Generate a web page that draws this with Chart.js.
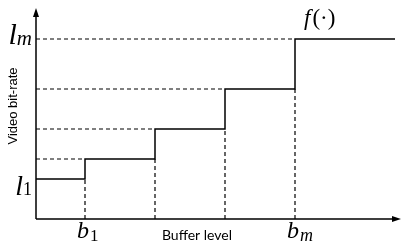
<!DOCTYPE html>
<html>
<head>
<meta charset="utf-8">
<script src="https://cdn.jsdelivr.net/npm/chart.js@4/dist/chart.umd.min.js"></script>
<style>
  html, body { margin: 0; padding: 0; background: #fff; }
  #wrap { width: 401px; height: 247px; }
</style>
</head>
<body>
<div id="wrap"><canvas id="myChart"></canvas></div>
<script>
// buffer breakpoints b1 .. bm, and where the last step stops
const xBreaks = [49, 119, 189, 259];
const xEnd = 359;
const X_MAX = 364;
// bit-rate levels l1 .. lm
const levels = [40, 60, 90, 130, 180];
const Y_MAX = 209;

// tick labels (base letter + subscript)
const yLabelBase = ['l', '', '', '', 'l'];
const yLabelSub = ['1', '', '', '', 'm'];
const xLabelBase = ['b', '', '', 'b'];
const xLabelSub = ['1', '', '', 'm'];

const xTitle = 'Buffer level';
const yTitle = 'Video bit-rate';

// step function points: start at 0, jump at each break, then run to xEnd
const stepPts = [{x: 0, y: levels[0]}];
xBreaks.forEach((b, i) => stepPts.push({x: b, y: levels[i + 1]}));
stepPts.push({x: xEnd, y: levels[levels.length - 1]});

const dashStyle = {
  borderColor: '#000',
  borderWidth: 1.2,
  borderDash: [4, 3],
  pointRadius: 0,
  fill: false,
  clip: false
};

const dashSets = [];
// horizontal guides from the y axis to each jump
xBreaks.forEach((b, i) => {
  dashSets.push(Object.assign({data: [{x: 0, y: levels[i + 1]}, {x: b, y: levels[i + 1]}]}, dashStyle));
});
// vertical guides from each jump down to the x axis
xBreaks.forEach((b, i) => {
  dashSets.push(Object.assign({data: [{x: b, y: 0}, {x: b, y: levels[i]}]}, dashStyle));
});

const mathFont = (size) => `italic ${size}px "Liberation Serif", "DejaVu Serif", serif`;
const romanFont = (size) => `${size}px "Liberation Serif", "DejaVu Serif", serif`;

const decorPlugin = {
  id: 'decor',
  afterDraw(chart) {
    const {ctx, chartArea: ca, scales} = chart;
    const sx = scales.x, sy = scales.y;
    const x0 = sx.getPixelForValue(0), y0 = sy.getPixelForValue(0);
    ctx.save();
    ctx.strokeStyle = '#000';
    ctx.fillStyle = '#000';
    ctx.lineWidth = 1.5;
    // axes
    ctx.beginPath();
    ctx.moveTo(x0, y0);
    ctx.lineTo(x0, ca.top + 4);
    ctx.moveTo(x0, y0);
    ctx.lineTo(ca.right - 4, y0);
    ctx.stroke();
    // arrow heads
    ctx.beginPath();
    ctx.moveTo(x0, ca.top - 2);
    ctx.lineTo(x0 - 3, ca.top + 7);
    ctx.lineTo(x0 + 3, ca.top + 7);
    ctx.closePath();
    ctx.fill();
    ctx.beginPath();
    ctx.moveTo(ca.right + 1, y0);
    ctx.lineTo(ca.right - 8, y0 - 3);
    ctx.lineTo(ca.right - 8, y0 + 3);
    ctx.closePath();
    ctx.fill();

    // y tick labels
    ctx.textBaseline = 'alphabetic';
    yLabelBase.forEach((base, i) => {
      if (!base) return;
      const py = sy.getPixelForValue(levels[i]);
      const big = i === 0 ? 28 : 30;
      const small = i === 0 ? 18 : 21;
      const subFont = yLabelSub[i] === 'm' ? mathFont(small) : romanFont(small);
      ctx.font = mathFont(big);
      const wb = ctx.measureText(base).width;
      ctx.font = subFont;
      const ws = ctx.measureText(yLabelSub[i]).width;
      const right = x0 - 4;
      const left = right - wb - ws;
      ctx.font = mathFont(big);
      ctx.fillText(base, left, py + (i === 0 ? 16 : 5));
      ctx.font = subFont;
      ctx.fillText(yLabelSub[i], left + wb, py + (i === 0 ? 16 : 6));
    });

    // x tick labels
    xLabelBase.forEach((base, i) => {
      if (!base) return;
      const px = sx.getPixelForValue(xBreaks[i]);
      ctx.font = mathFont(24);
      const wb = ctx.measureText(base).width;
      ctx.fillText(base, px - 8, y0 + 19);
      ctx.font = xLabelSub[i] === 'm' ? mathFont(18) : romanFont(17);
      ctx.fillText(xLabelSub[i], px - 7 + wb, y0 + 22);
    });

    // f(.) label: italic f, upright parentheses
    let fx = sx.getPixelForValue(xBreaks[3]) + 9;
    ctx.font = mathFont(23);
    ctx.fillText('f', fx, 25);
    fx += ctx.measureText('f').width + 2;
    ctx.font = romanFont(23);
    ctx.fillText('(·)', fx, 25);

    // axis titles
    ctx.font = '14px Lato, "Open Sans", sans-serif';
    ctx.textAlign = 'center';
    ctx.fillText(xTitle, (sx.getPixelForValue(xBreaks[1]) + sx.getPixelForValue(xBreaks[2])) / 2 + 7, y0 + 21);
    ctx.translate(17, 106);
    ctx.rotate(-Math.PI / 2);
    ctx.font = '13px "Liberation Sans", Arial, sans-serif';
    ctx.fillText(yTitle, 0, 0);
    ctx.restore();
  }
};

let myChart;

const setup = () => {
  const ctxt = document.getElementById('myChart').getContext('2d');
  myChart = new Chart(ctxt, {
    type: 'line',
    data: {
      datasets: [
        {
          data: stepPts,
          stepped: true,
          borderColor: '#000',
          borderWidth: 1.5,
          pointRadius: 0,
          fill: false,
          clip: false
        },
        ...dashSets
      ]
    },
    options: {
      responsive: true,
      maintainAspectRatio: false,
      animation: false,
      layout: {padding: {left: 36, top: 10, right: 1, bottom: 28}},
      plugins: {legend: {display: false}, tooltip: {enabled: false}},
      scales: {
        x: {type: 'linear', min: 0, max: X_MAX, display: false},
        y: {type: 'linear', min: 0, max: Y_MAX, display: false}
      }
    },
    plugins: [decorPlugin]
  });
};

window.addEventListener('DOMContentLoaded', setup);
</script>
</body>
</html>
